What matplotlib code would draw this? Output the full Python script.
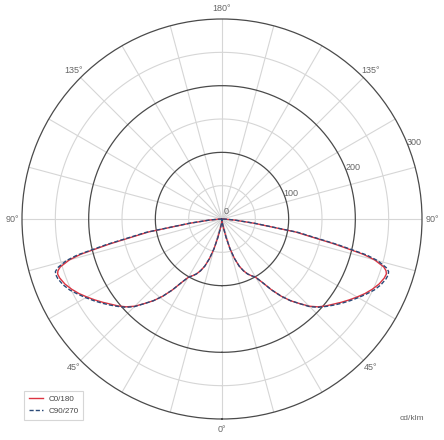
import numpy as np
import matplotlib
matplotlib.use("Agg")
import matplotlib.pyplot as plt

plt.rcParams['font.family'] = ['Liberation Sans', 'DejaVu Sans']

# gamma angles (deg from nadir) and intensities in cd/klm
gamma = [0, 2.5, 5, 7.5, 10, 12.5, 15, 17.5, 20, 22.5, 25, 27.5, 30, 32.5, 35, 37.5, 40, 42.5,
         45, 47.5, 50, 52.5, 55, 57.5, 60, 62.5, 65, 67.5, 70, 71.5, 72.5, 73.5, 75, 76,
         77.5, 80, 82.5, 85, 87.5, 90]
c0_180 = [0, 2, 5, 9, 15, 28, 46, 62, 75, 84, 91, 96, 101, 113, 130, 146, 160, 172,
          185, 195, 203, 210, 218, 226, 234, 242, 249, 255, 259, 260, 258, 253, 237, 218,
          172, 112, 48, 19, 6, 0]
c90_270 = [0, 2, 5, 9, 15, 28, 46, 62, 75, 84, 91, 96, 101, 113, 130, 146, 160, 172,
           186, 196, 204, 212, 220, 228, 236, 244, 252, 258, 262, 263, 262, 257, 242, 224,
           178, 116, 50, 20, 6, 0]

ring_values = [50, 100, 150, 200, 250, 300]
ring_labels = ["100", "200", "300"]
angle_labels = ["0°", "45°", "90°", "135°", "180°"]

grid_light = "#d6d6d6"
grid_dark = "#4a4a4a"
text_col = "#666666"


def mirrored(vals):
    g = np.radians(gamma)
    v = np.asarray(vals, dtype=float)
    th = np.concatenate([-g[::-1], g[1:]])
    r = np.concatenate([v[::-1], v[1:]])
    return th, r


fig = plt.figure(figsize=(4.44, 4.40), dpi=100)
ax = fig.add_axes([22 / 444, 21 / 440, 400 / 444, 400 / 440], projection='polar')
ax.set_theta_zero_location('S')
ax.set_ylim(0, 300)
ax.set_xticks([])
ax.set_yticks([])
ax.grid(False)
ax.spines['polar'].set_color(grid_dark)
ax.spines['polar'].set_linewidth(0.9)

# spokes every 15 degrees
for a in range(0, 360, 15):
    t = np.radians(a)
    ax.plot([t, t], [0, 300], color=grid_light, lw=0.8, zorder=1)

# rings
tt = np.linspace(0, 2 * np.pi, 400)
for rv in ring_values[:-1]:
    dark = rv % 100 == 0
    ax.plot(tt, np.full_like(tt, rv), color=grid_dark if dark else grid_light,
            lw=0.9 if dark else 0.8, zorder=2 if dark else 1)

th, r = mirrored(c0_180)
ax.plot(th, r, color="#dc3441", lw=1.0, label="C0/180", zorder=3)
th, r = mirrored(c90_270)
ax.plot(th, r, color="#2b4a78", lw=1.0, ls=(0, (3, 1.5)), label="C90/270", zorder=4)

# angle labels
for lab, a in zip(angle_labels, [0, 45, 90, 135, 180]):
    for s in ([1, -1] if a not in (0, 180) else [1]):
        ax.text(np.radians(s * a), 315, lab, ha='center', va='center',
                fontsize=6.5, color=text_col, clip_on=False)

# ring labels
tl = np.radians(112.5)
for lab, rv in zip(ring_labels, [100, 200, 300]):
    ax.text(tl, rv, lab, ha='left', va='center', fontsize=6.5, color=text_col)
ax.text(np.radians(150), 6, "0", ha='left', va='bottom', fontsize=6.5, color=text_col)

fig.text(412 / 444, 1 - 418 / 440, "cd/klm", ha='center', va='center', fontsize=6, color=text_col)

leg = fig.legend(loc='lower left', bbox_to_anchor=(20 / 444, 1 - 424 / 440), fontsize=5.8,
                 frameon=True, fancybox=False, handlelength=1.8, borderpad=0.6,
                 labelspacing=0.55, handletextpad=0.6)
leg.get_frame().set_edgecolor("#cccccc")
leg.get_frame().set_linewidth(0.8)
for t in leg.get_texts():
    t.set_color("#444444")

fig.savefig("out.png", dpi=100)
